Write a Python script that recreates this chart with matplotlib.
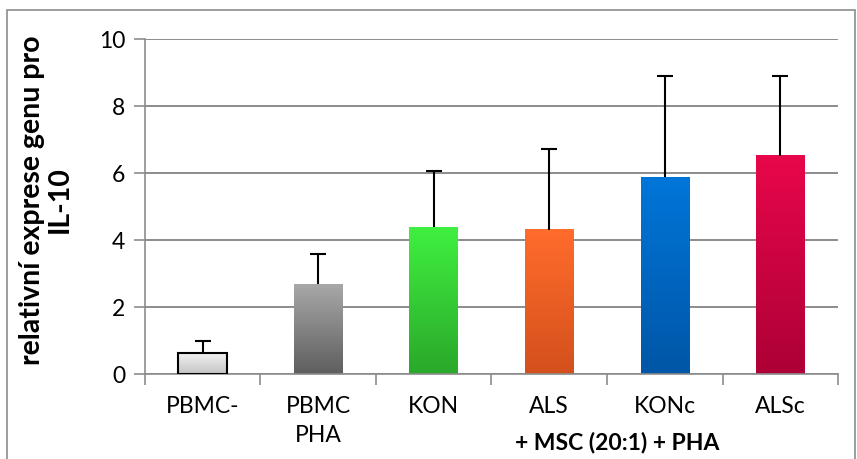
"""Relative IL-10 expression bar chart (Excel style, gradient bars)."""

import matplotlib

matplotlib.use("Agg")

import matplotlib.pyplot as plt
import numpy as np
from matplotlib.colors import LinearSegmentedColormap
from matplotlib.patches import Rectangle

categories = ["PBMC-", "PBMC\nPHA", "KON", "ALS", "KONc", "ALSc"]
means = [0.62, 2.68, 4.38, 4.31, 5.87, 6.51]
err_upper = [0.36, 0.90, 1.68, 2.41, 3.03, 2.39]
# (top colour, bottom colour) for each bar's gradient
gradients = [
    ("#f2f2f2", "#c4c4c4"),
    ("#a8a8a8", "#5e5e5e"),
    ("#40f040", "#2aa82a"),
    ("#ff6c2c", "#d4501c"),
    ("#0076da", "#0056a6"),
    ("#e8074b", "#ad0036"),
]
edge_colors = ["#000000", "none", "none", "none", "none", "none"]
y_ticks = [0, 2, 4, 6, 8, 10]

plt.rcParams["font.family"] = ["Lato", "DejaVu Sans"]

fig = plt.figure(figsize=(8.57, 4.59), dpi=100)
ax = fig.add_axes([0.169, 0.185, 0.809, 0.73])

x = np.arange(len(categories))
width = 0.42
grad = np.linspace(1, 0, 256).reshape(-1, 1)

for xi, h, (top, bottom), ec in zip(x, means, gradients, edge_colors):
    cmap = LinearSegmentedColormap.from_list("g", [bottom, top])
    ax.imshow(grad, cmap=cmap, extent=[xi - width / 2, xi + width / 2, 0, h],
              aspect="auto", origin="upper", zorder=2)
    if ec != "none":
        ax.add_patch(Rectangle((xi - width / 2, 0), width, h, fill=False,
                               edgecolor=ec, linewidth=1.5, zorder=3))

_, caplines, _ = ax.errorbar(
    x, means, yerr=[np.zeros(len(means)), err_upper], fmt="none",
    ecolor="black", elinewidth=1.5, capsize=6, capthick=1.5, zorder=4)
caplines[0].set_visible(False)  # only the upper caps, as in Excel "plus" bars

ax.set_xlim(-0.5, len(categories) - 0.5)
ax.set_ylim(0, 10)
ax.set_yticks(y_ticks)
ax.set_yticklabels([str(t) for t in y_ticks], fontsize=16.5)
ax.yaxis.grid(True, color="#8c8c8c", linewidth=1.4, zorder=0)
ax.set_axisbelow(True)

ax.set_xticks(x)
ax.set_xticklabels(categories, fontsize=16.5, linespacing=1.45)
ax.tick_params(axis="x", which="major", length=0, pad=16)
ax.set_xticks(np.arange(-0.5, len(categories)), minor=True)
ax.tick_params(axis="x", which="minor", length=8, width=1.2, color="#8c8c8c")
ax.tick_params(axis="y", length=8, width=1.2, color="#8c8c8c", pad=6)

for side in ["top", "right"]:
    ax.spines[side].set_visible(False)
for side in ["left", "bottom"]:
    ax.spines[side].set_color("#8c8c8c")
    ax.spines[side].set_linewidth(1.2)

ax.set_ylabel("relativní exprese genu pro\nIL-10", fontsize=20.5, fontweight="bold",
              linespacing=1.1)
ax.yaxis.set_label_coords(-0.104, 0.52)
fig.text(0.72, 0.037, "+ MSC (20:1) + PHA", ha="center", va="center",
         fontsize=16.5, fontweight="bold")

fig.patches.append(Rectangle((7 / 857, -0.05), 848 / 857, 1 - 10 / 459 + 0.05,
                             transform=fig.transFigure, fill=False,
                             edgecolor="#8c8c8c", linewidth=1.2))

fig.savefig("out.png", dpi=100, facecolor="white")
